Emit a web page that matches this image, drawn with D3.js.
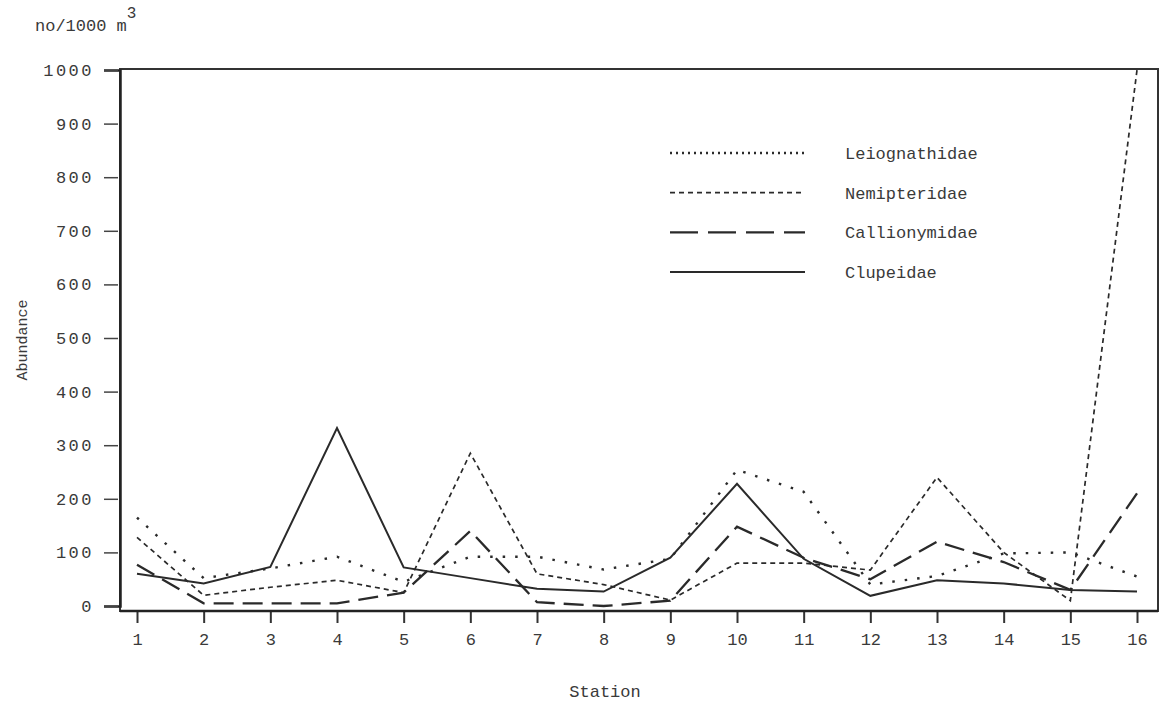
<!DOCTYPE html>
<html>
<head>
<meta charset="utf-8">
<script src="https://cdn.jsdelivr.net/npm/d3@7"></script>
<style>
  body { margin: 0; background: #fff; }
  text { font-family: "Liberation Mono", "DejaVu Sans Mono", monospace; fill: #3a3a3a; }
</style>
</head>
<body>
<svg></svg>
<script>
var width = 1161,
    height = 703;

// Data (no/1000 m3 per station)
var stations = [1, 2, 3, 4, 5, 6, 7, 8, 9, 10, 11, 12, 13, 14, 15, 16];
var leiognathidae = [165, 52, 70, 92, 45, 92, 92, 68, 88, 254, 213, 40, 56, 98, 100, 55];
var nemipteridae = [128, 20, 35, 48, 25, 285, 60, 40, 11, 80, 80, 67, 240, 100, 10, 1000];
var callionymidae = [77, 5, 5, 5, 25, 140, 7, 0, 10, 148, 90, 50, 120, 82, 30, 210];
var clupeidae = [60, 42, 73, 332, 72, 52, 32, 27, 90, 228, 88, 19, 48, 42, 30, 27];
var yTicks = [0, 100, 200, 300, 400, 500, 600, 700, 800, 900, 1000];

var series = [
    { name: 'Leiognathidae', values: leiognathidae, dash: '2.5,10', width: 2.4 },
    { name: 'Nemipteridae', values: nemipteridae, dash: '5,4', width: 1.7 },
    { name: 'Callionymidae', values: callionymidae, dash: '20,9', width: 2.3 },
    { name: 'Clupeidae', values: clupeidae, dash: null, width: 2 }
];

var frame = { left: 120, top: 69, right: 1158, bottom: 611 };

var x = d3.scaleLinear()
    .domain([1, 16])
    .range([137, 1137]);

var y = d3.scaleLinear()
    .domain([0, 1000])
    .range([606, 70]);

var svg = d3.select('svg')
    .attr('width', width)
    .attr('height', height);

// Frame
svg.append('rect')
    .attr('x', frame.left)
    .attr('y', frame.top)
    .attr('width', frame.right - frame.left)
    .attr('height', frame.bottom - frame.top)
    .attr('fill', 'none')
    .attr('stroke', '#333')
    .attr('stroke-width', 2);

// Y axis
var yAxis = svg.append('g')
    .attr('transform', 'translate(' + frame.left + ',0)')
    .attr('font-size', 17)
    .call(d3.axisLeft(y).tickValues(yTicks).tickSize(16).tickPadding(10).tickFormat(d3.format('d')));
yAxis.select('.domain').attr('stroke', '#222').attr('stroke-width', 2.5);
yAxis.selectAll('.tick line').attr('stroke', '#444').attr('stroke-width', 1.5).attr('x2', -16).attr('x1', -2);
yAxis.selectAll('.tick text')
    .style('font-size', '17px')
    .style('letter-spacing', '2.5px')
    .attr('fill', '#3a3a3a');

// X axis
var xAxis = svg.append('g')
    .attr('transform', 'translate(0,' + frame.bottom + ')')
    .attr('font-size', 17)
    .call(d3.axisBottom(x).tickValues(stations).tickSize(12).tickPadding(10).tickFormat(d3.format('d')));
xAxis.select('.domain').remove();
xAxis.selectAll('.tick line').attr('stroke', '#333').attr('stroke-width', 2);
xAxis.selectAll('.tick text').style('font-size', '17px').attr('fill', '#3a3a3a');

svg.append('line')
    .attr('x1', frame.left).attr('x2', frame.right)
    .attr('y1', frame.bottom).attr('y2', frame.bottom)
    .attr('stroke', '#222').attr('stroke-width', 2.5);

// Lines
var line = d3.line()
    .x(function(d, i) { return x(stations[i]); })
    .y(function(d) { return y(d); });

svg.append('g').selectAll('path')
    .data(series)
    .enter().append('path')
    .attr('d', function(d) { return line(d.values); })
    .attr('fill', 'none')
    .attr('stroke', '#2a2a2a')
    .attr('stroke-width', function(d) { return d.width; })
    .attr('stroke-dasharray', function(d) { return d.dash; });

// Legend
var legend = svg.append('g');
var rowY = d3.scalePoint().domain(series.map(function(d) { return d.name; })).range([153, 272]);

legend.selectAll('line')
    .data(series)
    .enter().append('line')
    .attr('x1', 670).attr('x2', 805)
    .attr('y1', function(d) { return rowY(d.name); })
    .attr('y2', function(d) { return rowY(d.name); })
    .attr('stroke', '#2a2a2a')
    .attr('stroke-width', function(d) { return d.width; })
    .attr('stroke-dasharray', function(d) { return d.name === 'Leiognathidae' ? '2,4' : d.name === 'Callionymidae' ? '28,10' : d.dash; });

legend.selectAll('text')
    .data(series)
    .enter().append('text')
    .attr('x', 845)
    .attr('y', function(d) { return rowY(d.name); })
    .attr('dy', '0.35em')
    .style('font-size', '17px')
    .text(function(d) { return d.name; });

// Axis titles
svg.append('text')
    .attr('transform', 'translate(27,340) rotate(-90)')
    .attr('text-anchor', 'middle')
    .style('font-size', '15px')
    .text('Abundance');

svg.append('text')
    .attr('x', 605)
    .attr('y', 697)
    .attr('text-anchor', 'middle')
    .style('font-size', '17px')
    .text('Station');

var unit = svg.append('text')
    .attr('x', 35)
    .attr('y', 31)
    .style('font-size', '17px');
unit.append('tspan').text('no/1000 m');
unit.append('tspan').attr('dy', -13).style('font-size', '16px').text('3');
</script>
</body>
</html>
